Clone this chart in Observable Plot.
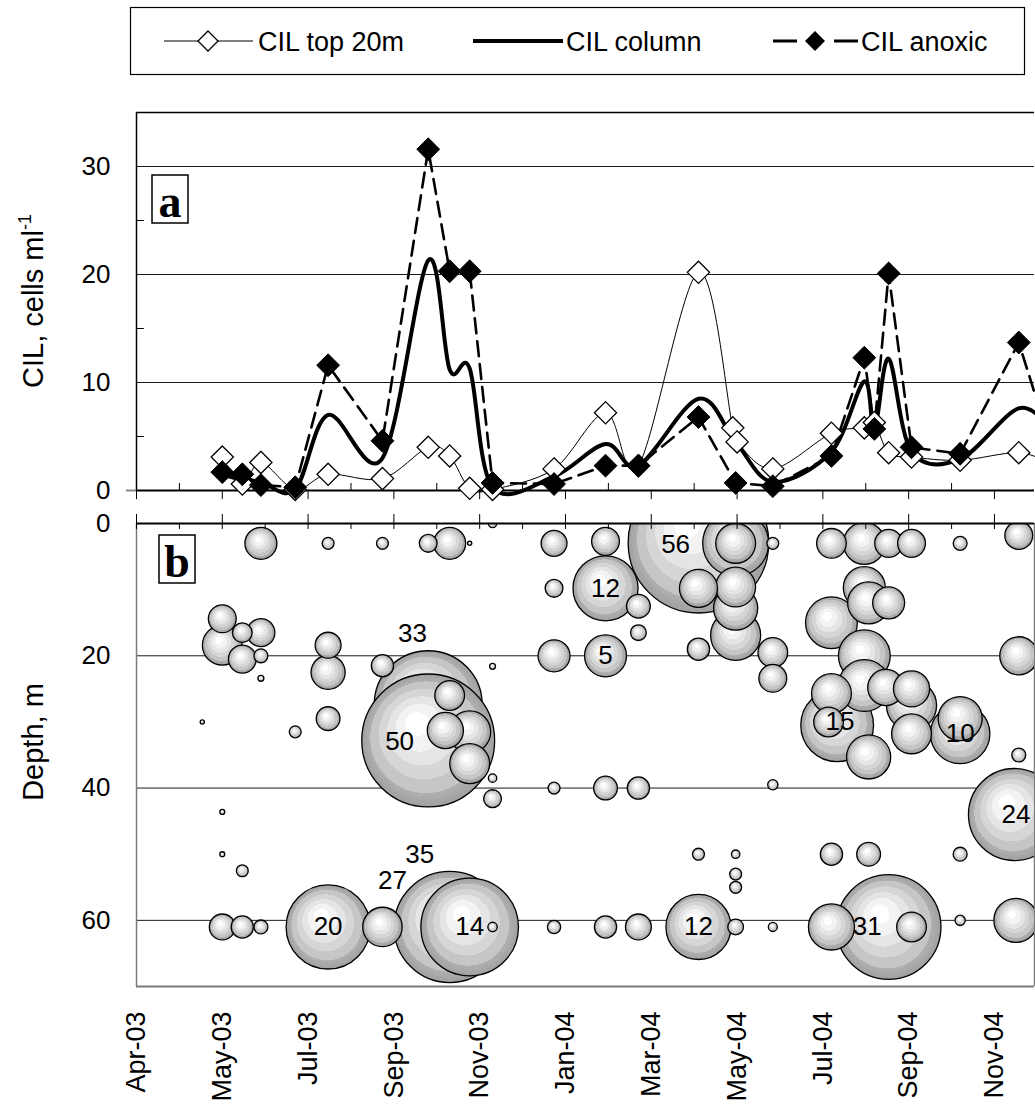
<!DOCTYPE html>
<html>
<head>
<meta charset="utf-8">
<script src="https://cdn.jsdelivr.net/npm/d3@7"></script>
<script src="https://cdn.jsdelivr.net/npm/@observablehq/plot@0.6"></script>
<style>
  body { margin: 0; background: #fff; font-family: "Liberation Sans", Arial, sans-serif; }
  #wrap { position: relative; width: 1035px; height: 1104px; overflow: hidden; background: #fff; }
  #top { position: absolute; left: 0; top: 0; }
  #bot { position: absolute; left: 0; top: 500px; }
  #legend { position: absolute; left: 0; top: 0; z-index: 2; }
</style>
</head>
<body>
<div id="wrap">
  <div id="top"></div>
  <div id="bot"></div>
  <svg id="legend" width="1035" height="80"></svg>
</div>
<script>
// ---------------- DATA ----------------
const seriesNames = ["CIL top 20m", "CIL column", "CIL anoxic"];

const top20Dates = ["2003-05-31","2003-06-14","2003-06-27","2003-07-21","2003-08-13","2003-09-20","2003-10-22","2003-11-06","2003-11-20","2003-12-06","2004-01-18","2004-02-23","2004-03-17","2004-04-28","2004-05-22","2004-05-25","2004-06-19","2004-07-30","2004-08-22","2004-08-29","2004-09-08","2004-09-24","2004-10-28","2004-12-08","2004-12-31"];
const top20Values = [3.1,0.6,2.6,0.1,1.5,1.1,4.0,3.2,0.2,0.1,2.0,7.2,2.3,20.2,5.8,4.5,2.0,5.3,5.8,6.3,3.5,3.1,2.8,3.5,2.4];

const sampleDates = ["2003-05-31","2003-06-14","2003-06-27","2003-07-21","2003-08-13","2003-09-20","2003-10-22","2003-11-06","2003-11-20","2003-12-06","2004-01-18","2004-02-23","2004-03-17","2004-04-28","2004-05-24","2004-06-19","2004-07-30","2004-08-22","2004-08-29","2004-09-08","2004-09-24","2004-10-28","2004-12-08","2004-12-31"];
const columnValues = [1.5,1.0,0.8,0.1,7.0,3.0,21.3,11.2,11.3,0.3,1.3,4.3,2.3,8.5,4.5,0.8,3.6,10.1,5.5,12.2,3.6,2.9,7.6,5.5];
const anoxicValues = [1.7,1.5,0.5,0.3,11.6,4.6,31.6,20.3,20.3,0.7,0.6,2.3,2.3,6.8,0.7,0.4,3.2,12.3,5.7,20.1,4.0,3.4,13.7,4.0];

// bubbles (panel b): date, depth (m), value — listed in drawing order
const bubbleDates = ["2004-04-28","2003-10-22","2003-10-22","2003-11-06","2004-09-08","2003-11-20","2004-12-05","2003-08-13","2004-08-03","2004-02-23",
 "2004-04-28","2004-05-24","2004-10-28","2004-07-30","2004-08-22","2004-08-22","2004-05-24","2004-09-24","2004-07-30","2004-05-24",
 "2004-08-25","2004-10-28","2004-12-06","2004-08-22","2004-08-22","2004-08-25","2003-11-20","2004-02-23","2003-05-31","2004-05-24",
 "2004-05-24","2004-07-30","2003-11-20","2004-09-24","2003-09-20","2004-04-28","2004-12-08","2003-11-03","2004-09-06","2004-09-24",
 "2003-08-13","2003-06-27","2003-11-06","2004-01-18","2004-09-08","2003-11-06","2004-07-30","2004-06-19","2004-07-28","2004-09-24",
 "2003-05-31","2003-06-14","2003-06-27","2004-02-23","2004-06-19","2004-09-08","2004-09-24","2004-12-08","2003-05-31","2004-01-18",
 "2003-08-13","2004-03-17","2003-08-13","2004-03-17","2004-02-23","2004-08-25","2003-06-14","2003-09-20","2004-04-28","2004-03-17",
 "2004-07-30","2004-02-23","2003-06-14","2003-10-22","2004-01-18","2003-12-06","2004-03-17","2004-05-24","2003-06-27","2003-06-27",
 "2004-10-28","2004-10-28","2004-12-08","2004-10-28","2004-01-18","2003-08-13","2003-09-20","2003-07-21","2004-06-19","2003-06-14",
 "2004-01-18","2004-04-28","2004-05-24","2004-05-24","2004-06-19","2003-12-06","2004-06-19","2003-12-06","2003-12-06","2004-05-24",
 "2003-06-27","2003-12-06","2003-05-31","2003-05-31","2003-05-17","2003-11-20"];
const bubbleDepths = [2.9,27.4,32.8,61,61,61,44,61,30.5,9.8,
 61,3,31.8,15,20,24.5,16.9,27.5,61,12.8,
 35.3,29.5,60,3,9.7,12,31.5,20,18.4,3,
 9.6,25.7,36.3,31.8,61,9.8,20,31.3,24.8,25,
 22.5,3,3,20,12,26,3,19.5,30,61,
 14.4,20.5,16.5,2.7,23.4,3,3,1.8,61,3,
 18.4,61,29.5,12.5,40,50,61,21.5,19,40,
 50,61,16.5,3,9.8,41.6,16.5,61,20,61,
 3,50,35,60,61,3,3,31.5,3,52.5,
 40,50,53,55,39.5,61,61,0,38.5,50,
 23.4,21.6,43.6,50,30,3];
const bubbleValues = [56,33,50,35,31,27,24,20,15,12,
 12,12.3,10,7.6,7.6,7.6,7.1,7.1,6.0,5.5,
 5.5,5.5,5.5,5.0,5.0,5.0,5.0,5.0,4.5,4.5,
 4.5,4.5,4.5,4.5,4.4,4.1,4.1,3.7,3.7,3.7,
 3.3,2.9,2.9,2.9,2.9,2.5,2.5,2.5,2.5,2.5,
 2.2,2.2,2.2,2.2,2.2,2.2,2.2,2.2,1.9,1.9,
 1.9,1.9,1.6,1.6,1.6,1.6,1.4,1.4,1.4,1.4,
 1.4,1.4,1.1,0.9,0.9,0.9,0.7,0.7,0.55,0.55,
 0.55,0.55,0.55,0.3,0.5,0.4,0.4,0.4,0.4,0.4,
 0.4,0.4,0.4,0.4,0.3,0.25,0.23,0.2,0.2,0.2,
 0.1,0.1,0.07,0.07,0.05,0.05];

// bubble value labels
const labelTexts = ["56","12","5","33","50","35","27","20","14","12","31","15","10","24"];
const labelDates = ["2004-04-12","2004-02-23","2004-02-23","2003-10-11","2003-10-02","2003-10-16","2003-09-27","2003-08-13","2003-11-20","2004-04-28","2004-08-24","2004-08-05","2004-10-28","2004-12-06"];
const labelDepths = [3.2,9.8,20,16.6,33,50,54,61,61,61,61,30,31.8,44];

// axis ticks
const tickLabels = ["Apr-03","May-03","Jul-03","Sep-03","Nov-03","Jan-04","Mar-04","May-04","Jul-04","Sep-04","Nov-04"];
const cilTicks = [0,10,20,30];
const depthTicks = [0,20,40,60];

// ---------------- BUILD ----------------
const FONT = '"Liberation Sans", Arial, sans-serif';
const DAY = 864e5;
const start = new Date(Date.UTC(2003,3,1));
const end = new Date(Date.UTC(2004,11,19));
const majorTicks = tickLabels.map((_, k) => new Date(+start + 60*k*DAY));
const minorTicks = tickLabels.map((_, k) => new Date(+start + (30+60*k)*DAY)).filter(d => d <= end);
const fmtTick = d => tickLabels[majorTicks.findIndex(t => +t === +d)];
const P = s => new Date(s + "T00:00:00Z");

const top20 = top20Dates.map((d,i) => ({date: P(d), v: top20Values[i]}));
const column = sampleDates.map((d,i) => ({date: P(d), v: columnValues[i]}));
const anoxic = sampleDates.map((d,i) => ({date: P(d), v: anoxicValues[i]}));
const bubbles = bubbleDates.map((d,i) => ({date: P(d), depth: bubbleDepths[i], v: bubbleValues[i]}));
const labels = labelTexts.map((t,i) => ({date: P(labelDates[i]), depth: labelDepths[i], t}));

const xScale = {type: "utc", domain: [start, end]};

// ---- panel a ----
const topPlot = Plot.plot({
  width: 1035, height: 500,
  marginLeft: 136, marginRight: 1, marginTop: 112, marginBottom: 10,
  x: {...xScale, axis: null},
  y: {domain: [0, 35]},
  style: {fontFamily: FONT, fontSize: "26px", color: "#000", background: "transparent", overflow: "visible"},
  marks: [
    Plot.ruleY([10,20,30], {stroke: "#1a1a1a", strokeWidth: 1}),
    Plot.ruleY([35], {stroke: "#000", strokeWidth: 1.5}),
    Plot.ruleX([start], {stroke: "#000", strokeWidth: 1.5}),
    Plot.ruleY([5,15,25], {x1: start, x2: new Date(+start + 5.5*DAY), stroke: "#000", strokeWidth: 1}),
    Plot.ruleY([0], {x1: new Date(+start - 7*DAY), x2: start, stroke: "#888", strokeWidth: 2}),
    Plot.ruleX(majorTicks, {y1: 0, y2: -0.85, stroke: "#000", strokeWidth: 1}),
    Plot.ruleX(minorTicks, {y1: 0, y2: 0.65, stroke: "#000", strokeWidth: 1}),
    Plot.ruleY([0], {stroke: "#000", strokeWidth: 2.2}),
    Plot.line(top20, {x: "date", y: "v", curve: "cardinal", stroke: "#000", strokeWidth: 1}),
    Plot.line(column, {x: "date", y: "v", curve: "cardinal", stroke: "#000", strokeWidth: 4}),
    Plot.line(anoxic, {x: "date", y: "v", stroke: "#000", strokeWidth: 2.6, strokeDasharray: "15,8"}),
    Plot.dot(top20, {x: "date", y: "v", symbol: "diamond2", r: 10, fill: "#fff", stroke: "#000", strokeWidth: 1.3}),
    Plot.dot(anoxic, {x: "date", y: "v", symbol: "diamond2", r: 10.3, fill: "#000", stroke: "#000", strokeWidth: 1}),
    Plot.axisY({ticks: cilTicks, tickSize: 0, tickPadding: 26, fontSize: 26, label: null})
  ]
});
document.getElementById("top").appendChild(topPlot);

// ---- panel b ----
const botPlot = Plot.plot({
  width: 1035, height: 604,
  marginLeft: 136, marginRight: 1, marginTop: 23, marginBottom: 118,
  x: xScale,
  y: {domain: [0, 70], reverse: true},
  r: {domain: [0, 56], range: [0, 70.3]},
  style: {fontFamily: FONT, fontSize: "26px", color: "#000", background: "transparent", overflow: "visible"},
  marks: [
    Plot.ruleY([20,40,60], {stroke: "#1a1a1a", strokeWidth: 1}),
    Plot.ruleX([start], {stroke: "#7a7a7a", strokeWidth: 1.5}),
    Plot.ruleX([end], {stroke: "#7a7a7a", strokeWidth: 1.5}),
    Plot.ruleY([70], {stroke: "#7a7a7a", strokeWidth: 2}),
    Plot.dot(bubbles, {x: "date", y: "depth", r: "v", sort: null, clip: true, fill: "url(#bub)", stroke: "#000", strokeWidth: 1.3}),
    Plot.text(labels, {x: "date", y: "depth", text: "t", fontSize: 26, fill: "#000"}),
    Plot.ruleY([0], {stroke: "#000", strokeWidth: 2.2}),
    Plot.ruleX(majorTicks, {y1: -1.36, y2: 0.9, stroke: "#000", strokeWidth: 1}),
    Plot.ruleX(minorTicks, {y1: 0, y2: 0.9, stroke: "#000", strokeWidth: 1}),
    Plot.axisY({ticks: depthTicks, tickSize: 0, tickPadding: 26, fontSize: 26, label: null}),
    Plot.axisX({ticks: majorTicks, tickFormat: fmtTick, tickRotate: -90, tickSize: 0, tickPadding: 25, fontSize: 27, label: null})
  ]
});
document.getElementById("bot").appendChild(botPlot);

// bubble gradient
const bsvg = d3.select(botPlot);
const grad = bsvg.insert("defs", ":first-child").append("radialGradient")
  .attr("id", "bub").attr("cx", "50%").attr("cy", "50%").attr("r", "50%").attr("fx", "40%").attr("fy", "35%");
[[0,"#ffffff"],[0.18,"#ffffff"],[0.18,"#f3f3f3"],[0.36,"#f3f3f3"],[0.36,"#e5e5e5"],[0.52,"#e5e5e5"],
 [0.52,"#d6d6d6"],[0.68,"#d6d6d6"],[0.68,"#c6c6c6"],[0.84,"#c6c6c6"],[0.84,"#b0b0b0"],[1,"#a0a0a0"]]
  .forEach(([o,c]) => grad.append("stop").attr("offset", o).attr("stop-color", c));

// axis titles
const tsvg = d3.select(topPlot);
const t1 = tsvg.append("text").attr("transform", "translate(43,301) rotate(-90)")
  .attr("text-anchor", "middle").attr("font-size", 29).attr("font-family", FONT).attr("fill", "#000");
t1.append("tspan").text("CIL, cells ml");
t1.append("tspan").attr("dy", -12).attr("font-size", 18).text("-1");

bsvg.append("text").attr("transform", "translate(43,242) rotate(-90)")
  .attr("text-anchor", "middle").attr("font-size", 29).attr("font-family", FONT).attr("fill", "#000")
  .text("Depth, m");

// panel letters
function panelLetter(svg, x, y, letter) {
  svg.append("rect").attr("x", x).attr("y", y).attr("width", 36).attr("height", 48)
    .attr("fill", "#fff").attr("stroke", "#000").attr("stroke-width", 1.5);
  svg.append("text").attr("x", x + 18).attr("y", y + 42).attr("text-anchor", "middle")
    .attr("font-family", '"Liberation Serif", "Times New Roman", serif').attr("font-weight", "bold")
    .attr("font-size", 46).attr("fill", "#000").text(letter);
}
panelLetter(tsvg, 152, 175, "a");
panelLetter(bsvg, 159, 35, "b");

// legend
const leg = d3.select("#legend");
leg.append("rect").attr("x", 130.5).attr("y", 7.5).attr("width", 894).attr("height", 67)
  .attr("fill", "#fff").attr("stroke", "#000").attr("stroke-width", 1.2);
const ly = 41;
const diamond = "M0,-10L10,0L0,10L-10,0Z";
leg.append("line").attr("x1", 164).attr("x2", 253).attr("y1", ly).attr("y2", ly).attr("stroke", "#000").attr("stroke-width", 1);
leg.append("path").attr("d", diamond).attr("transform", `translate(208,${ly})`).attr("fill", "#fff").attr("stroke", "#000").attr("stroke-width", 1.3);
leg.append("line").attr("x1", 473).attr("x2", 563).attr("y1", ly).attr("y2", ly).attr("stroke", "#000").attr("stroke-width", 4);
leg.append("line").attr("x1", 773).attr("x2", 858).attr("y1", ly).attr("y2", ly).attr("stroke", "#000").attr("stroke-width", 3).attr("stroke-dasharray", "24,37");
leg.append("path").attr("d", diamond).attr("transform", `translate(815,${ly})`).attr("fill", "#000");
[[258, 0], [566, 1], [861, 2]].forEach(([x, i]) => {
  leg.append("text").attr("x", x).attr("y", ly).attr("dy", "0.36em").attr("font-size", 27)
    .attr("font-family", FONT).attr("fill", "#000").text(seriesNames[i]);
});
</script>
</body>
</html>
